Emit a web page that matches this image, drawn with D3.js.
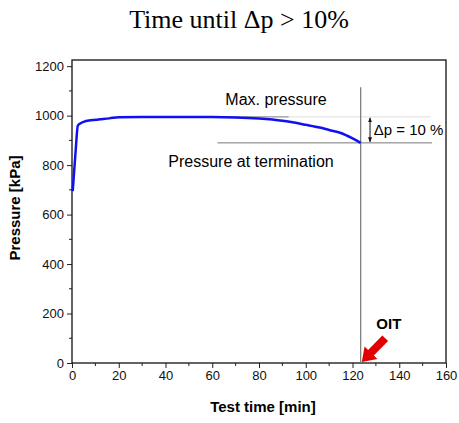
<!DOCTYPE html>
<html>
<head>
<meta charset="utf-8">
<script src="https://cdn.jsdelivr.net/npm/d3@7"></script>
<style>
  body { margin: 0; background: #fff; }
  text { font-family: "Liberation Sans", Arial, sans-serif; }
</style>
</head>
<body>
<div id="chart"></div>
<script>
// pressure curve
var timeMin = [0.3, 1.5, 2.5, 3.5, 5, 8, 12, 16, 20, 30, 40, 50, 60, 70, 80, 90, 100, 106, 110, 115, 120, 123.5];
var pressureKPa = [695, 850, 960, 968, 975, 981, 985, 989, 994, 995, 995, 995, 995, 993, 988, 979, 963, 952, 942, 930, 908, 890];

var xTickValues = [0, 20, 40, 60, 80, 100, 120, 140, 160];
var yTickValues = [0, 200, 400, 600, 800, 1000, 1200];

var maxPressure = 995, terminationPressure = 890, oitTime = 123.5;

var width = 459, height = 423;
var margin = {top: 60, right: 13, bottom: 60, left: 72};

var svg = d3.select("#chart").append("svg")
  .attr("width", width).attr("height", height);

var x = d3.scaleLinear().domain([0, 160]).range([margin.left, width - margin.right]);
var y = d3.scaleLinear().domain([0, 1225]).range([height - margin.bottom, margin.top]);

// title
svg.append("text")
  .attr("x", 239).attr("y", 28)
  .attr("text-anchor", "middle")
  .style("font-family", "'Liberation Serif', 'DejaVu Serif', serif")
  .style("font-size", "26px")
  .text("Time until \u0394p > 10%");

// axes
var xAxis = d3.axisBottom(x).tickValues(xTickValues).tickFormat(d3.format("d")).tickSize(5).tickPadding(3);
var yAxis = d3.axisLeft(y).tickValues(yTickValues).tickFormat(d3.format("d")).tickSize(5).tickPadding(3);

var gx = svg.append("g").attr("transform", "translate(0," + y(0) + ")").call(xAxis);
var gy = svg.append("g").attr("transform", "translate(" + x(0) + ",0)").call(yAxis);
[gx, gy].forEach(function(g) {
  g.select(".domain").remove();
  g.selectAll("text").style("font-size", "13px").style("font-family", "'Liberation Sans', Arial, sans-serif").attr("fill", "#111");
  g.selectAll("line").attr("stroke", "#222");
});

// minor ticks
svg.append("g").selectAll("line")
  .data(d3.range(10, 160, 20)).enter().append("line")
  .attr("x1", function(d) { return x(d); }).attr("x2", function(d) { return x(d); })
  .attr("y1", y(0)).attr("y2", y(0) + 3)
  .attr("stroke", "#222");
svg.append("g").selectAll("line")
  .data(d3.range(100, 1200, 200)).enter().append("line")
  .attr("y1", function(d) { return y(d); }).attr("y2", function(d) { return y(d); })
  .attr("x1", x(0)).attr("x2", x(0) - 3)
  .attr("stroke", "#222");

// frame
svg.append("rect")
  .attr("x", x(0)).attr("y", margin.top)
  .attr("width", x(160) - x(0)).attr("height", y(0) - margin.top)
  .attr("fill", "none").attr("stroke", "#111").attr("stroke-width", 1.3);

// axis titles
svg.append("text")
  .attr("x", 263).attr("y", 412)
  .attr("text-anchor", "middle")
  .style("font-weight", "bold").style("font-size", "15px")
  .text("Test time [min]");
svg.append("text")
  .attr("transform", "translate(20,208) rotate(-90)")
  .attr("text-anchor", "middle")
  .style("font-weight", "bold").style("font-size", "15px")
  .text("Pressure [kPa]");

// reference lines
svg.append("line")
  .attr("x1", x(74)).attr("x2", x(153.5))
  .attr("y1", y(maxPressure)).attr("y2", y(maxPressure))
  .attr("stroke", "#ddd").attr("stroke-width", 1);
svg.append("line")
  .attr("x1", x(60)).attr("x2", x(92.7))
  .attr("y1", y(maxPressure)).attr("y2", y(maxPressure))
  .attr("stroke", "#888").attr("stroke-width", 1);
svg.append("line")
  .attr("x1", x(62.2)).attr("x2", x(154))
  .attr("y1", y(terminationPressure)).attr("y2", y(terminationPressure))
  .attr("stroke", "#777").attr("stroke-width", 1);
svg.append("line")
  .attr("x1", x(oitTime)).attr("x2", x(oitTime))
  .attr("y1", y(1115)).attr("y2", y(0))
  .attr("stroke", "#777").attr("stroke-width", 1.2);

// pressure curve
var line = d3.line()
  .x(function(d, i) { return x(timeMin[i]); })
  .y(function(d) { return y(d); })
  .curve(d3.curveMonotoneX);
svg.append("path")
  .datum(pressureKPa)
  .attr("d", line)
  .attr("fill", "none")
  .attr("stroke", "#1010f0")
  .attr("stroke-width", 2.5)
  .attr("stroke-linejoin", "round");

// delta p double arrow
svg.append("defs").append("marker")
  .attr("id", "head").attr("viewBox", "0 0 10 10")
  .attr("refX", 9).attr("refY", 5)
  .attr("markerWidth", 5).attr("markerHeight", 5)
  .attr("orient", "auto-start-reverse")
  .append("path").attr("d", "M0,1 L10,5 L0,9 Z").attr("fill", "#111");
svg.append("line")
  .attr("x1", x(127.5)).attr("x2", x(127.5))
  .attr("y1", y(maxPressure) + 1).attr("y2", y(terminationPressure) - 1)
  .attr("stroke", "#111").attr("stroke-width", 1)
  .attr("marker-start", "url(#head)").attr("marker-end", "url(#head)");

// annotation texts
svg.append("text").attr("x", x(65.6)).attr("y", y(1045))
  .style("font-size", "16px").text("Max. pressure");
svg.append("text").attr("x", x(41.2)).attr("y", y(794))
  .style("font-size", "16px").text("Pressure at termination");
svg.append("text").attr("x", x(129.1)).attr("y", y(920))
  .style("font-size", "15px").text("\u0394p = 10 %");
svg.append("text").attr("x", x(130.2)).attr("y", y(137))
  .style("font-size", "15px").style("font-weight", "bold").text("OIT");

// red OIT arrow
var tail = [x(134), y(100)], tip = [x(124), y(4)];
var dx = tip[0] - tail[0], dy = tip[1] - tail[1];
var len = Math.sqrt(dx * dx + dy * dy);
var ux = dx / len, uy = dy / len, px = -uy, py = ux;
var sw = 4, hw = 9, hl = 13;
var bx = tip[0] - ux * hl, by = tip[1] - uy * hl;
var pts = [
  [tail[0] + px * sw, tail[1] + py * sw],
  [bx + px * sw, by + py * sw],
  [bx + px * hw, by + py * hw],
  tip,
  [bx - px * hw, by - py * hw],
  [bx - px * sw, by - py * sw],
  [tail[0] - px * sw, tail[1] - py * sw]
];
svg.append("polygon")
  .attr("points", pts.map(function(p) { return p.join(","); }).join(" "))
  .attr("fill", "#e00000");
</script>
</body>
</html>
